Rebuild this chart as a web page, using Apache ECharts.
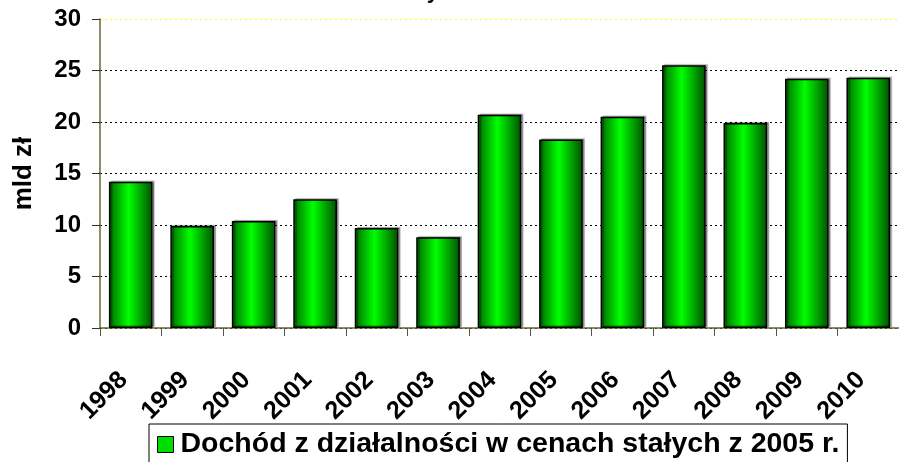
<!DOCTYPE html>
<html>
<head>
<meta charset="utf-8">
<script src="https://cdn.jsdelivr.net/npm/echarts@6/dist/echarts.min.js"></script>
<style>
  html, body { margin: 0; padding: 0; background: #fff; }
  #chart { width: 899px; height: 462px; }
</style>
</head>
<body>
<div id="chart"></div>
<script>
var years = ["1998", "1999", "2000", "2001", "2002", "2003", "2004", "2005", "2006", "2007", "2008", "2009", "2010"];
var dochod = [14.2, 9.9, 10.4, 12.5, 9.7, 8.8, 20.7, 18.3, 20.5, 25.5, 19.9, 24.2, 24.3];
var seriesName = "Dochód z działalności w cenach stałych z 2005 r.";
var yMax = 30;
var yStep = 5;

var myChart = echarts.init(document.getElementById("chart"));
var font = "'Liberation Sans', Arial, sans-serif";
// linie siatki: ostatnia (30) żółta
var gridColors = ["#000", "#000", "#000", "#000", "#000", "#000", "#ffff00"];

var option = {
  animation: false,
  textStyle: { fontFamily: font },
  title: {
    // tytuł ucięty u góry - widać tylko ogonek "y"
    text: "Dochody",
    right: 460,
    top: -19,
    padding: 0,
    textStyle: { fontFamily: font, fontWeight: "bold", fontSize: 22, color: "#000" }
  },
  grid: { left: 100, right: -4, top: 19, bottom: 134 },
  legend: {
    left: 149,
    top: 424,
    padding: [6, 8, 10, 8],
    borderColor: "#000",
    borderWidth: 1,
    itemWidth: 16,
    itemHeight: 16,
    itemGap: 6,
    icon: "rect",
    textStyle: { fontFamily: font, fontWeight: "bold", fontSize: 28.5, color: "#000", padding: [3, 0, 0, 2] },
    itemStyle: { color: "#00dd00", borderColor: "#000", borderWidth: 1 },
    data: [seriesName]
  },
  xAxis: {
    type: "category",
    data: years,
    boundaryGap: true,
    axisLine: { lineStyle: { color: "#666633", width: 1.5 } },
    axisTick: { show: true, length: 8, lineStyle: { color: "#555" } },
    axisLabel: {
      rotate: 45,
      margin: 41,
      padding: [0, 10, 0, 0],
      color: "#000",
      fontFamily: font,
      fontWeight: "bold",
      fontSize: 25
    },
    splitLine: { show: false }
  },
  yAxis: {
    type: "value",
    min: 0,
    max: yMax,
    interval: yStep,
    name: "mld zł",
    nameLocation: "middle",
    nameRotate: 90,
    nameGap: 63,
    nameTextStyle: { fontFamily: font, fontWeight: "bold", fontSize: 26, color: "#000" },
    axisLine: { show: true, lineStyle: { color: "#666633", width: 1.5 } },
    axisTick: { show: true, length: 8, lineStyle: { color: "#333" } },
    axisLabel: { color: "#000", fontFamily: font, fontWeight: "bold", fontSize: 24, margin: 19 },
    splitLine: { show: true, lineStyle: { color: gridColors, type: [2, 3], width: 1 } }
  },
  series: [
    {
      name: seriesName,
      type: "bar",
      data: dochod,
      barCategoryGap: "29%",
      itemStyle: {
        color: new echarts.graphic.LinearGradient(0, 0, 1, 0, [
          { offset: 0, color: "#006a00" },
          { offset: 0.45, color: "#00ff00" },
          { offset: 1, color: "#005000" }
        ]),
        borderColor: "#000",
        borderWidth: 1.5,
        shadowColor: "rgba(0,0,0,0.35)",
        shadowOffsetX: 2,
        shadowOffsetY: -1,
        shadowBlur: 1
      }
    }
  ]
};

myChart.setOption(option);
</script>
</body>
</html>
